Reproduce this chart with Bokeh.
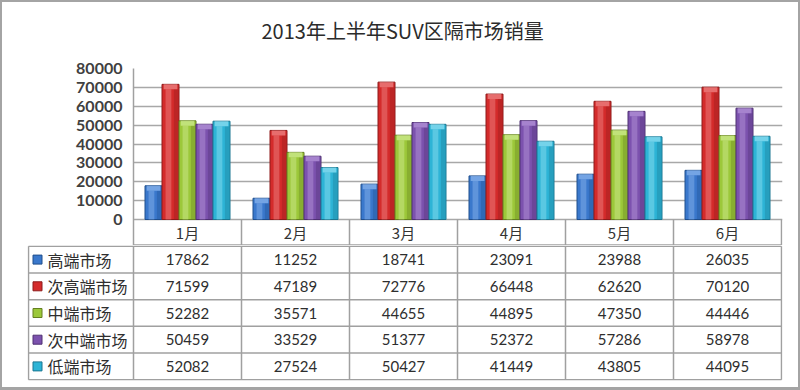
from bokeh.plotting import figure
from bokeh.models import Range1d, FixedTicker, ColumnDataSource
from bokeh.embed import file_html
from bokeh.resources import INLINE
from bokeh.core.properties import value

# ---------------- data ----------------
title_text = "2013年上半年SUV区隔市场销量"
months = ["1月", "2月", "3月", "4月", "5月", "6月"]
series_names = ["高端市场", "次高端市场", "中端市场", "次中端市场", "低端市场"]
high = [17862, 11252, 18741, 23091, 23988, 26035]
sub_high = [71599, 47189, 72776, 66448, 62620, 70120]
mid = [52282, 35571, 44655, 44895, 47350, 44446]
sub_mid = [50459, 33529, 51377, 52372, 57286, 58978]
low = [52082, 27524, 50427, 41449, 43805, 44095]
y_ticks = [0, 10000, 20000, 30000, 40000, 50000, 60000, 70000, 80000]

series = [high, sub_high, mid, sub_mid, low]
colors = ["#3a78cc", "#d42b2b", "#9cc83a", "#7c52ae", "#2db4d6"]
darks = ["#1f4e8c", "#8e1a1a", "#647f20", "#4f3073", "#1b7791"]
lights = ["#8db6ee", "#f08a8a", "#d2ec96", "#b899dc", "#93e0f2"]

CJK = value("Noto Sans CJK SC")
NUM = value("Lato")

W = 800
TITLE_H = 46
TOP = 68            # top of the plot area (page px)
LEFT = 133          # left edge of the plot area
RIGHT_EDGE = 781    # right edge of the plot area / table
COL_PX = (RIGHT_EDGE - LEFT) / 6.0
BW = 17.0 / COL_PX  # bar width in month units
PLOT_PX = 151.0     # pixel height of 0..80000
HDR_PX = 26.0       # header row height
ROW_PX = 26.6
YMAX = 80000
hdr_units = HDR_PX / PLOT_PX * YMAX
pad = 1.0 / COL_PX
gc = "#a0a0a0"
border = "#a4a4a4"
chart_h = int(TOP + PLOT_PX + HDR_PX) - TITLE_H

# ---------------- title strip ----------------
head = figure(width=W, height=TITLE_H, x_range=Range1d(0, W), y_range=Range1d(TITLE_H, 0),
              output_backend="svg", toolbar_location=None,
              min_border_left=0, min_border_right=0, min_border_top=0, min_border_bottom=0)
head.axis.visible = False
head.grid.grid_line_color = None
head.outline_line_color = None
head.border_fill_alpha = 0
head.background_fill_alpha = 0
head.styles = {"box-shadow": f"inset 2px 2px 0 {border}, inset -2px 0 0 {border}"}
head.text(x=[261], y=[30], text=[title_text], text_align="left", text_baseline="middle",
          text_font=CJK, text_font_size="20px", text_color="#2b2b2b")

# ---------------- chart (with month header row) ----------------
chart = figure(width=W, height=chart_h,
               x_range=Range1d(0, 6 + pad), y_range=Range1d(-hdr_units, YMAX),
               output_backend="svg", toolbar_location=None,
               min_border_left=LEFT, min_border_right=W - RIGHT_EDGE - 1,
               min_border_top=TOP - TITLE_H, min_border_bottom=0)
chart.outline_line_color = None
chart.border_fill_alpha = 0
chart.styles = {"box-shadow": f"inset 2px 0 0 {border}, inset -2px 0 0 {border}"}
chart.xaxis.visible = False
chart.xgrid.grid_line_color = None
chart.ygrid.grid_line_color = "#a8a8a8"
chart.ygrid.grid_line_width = 1.5
chart.yaxis.ticker = FixedTicker(ticks=y_ticks)
chart.yaxis.major_tick_in = 0
chart.yaxis.major_tick_out = 0
chart.yaxis.minor_tick_in = 0
chart.yaxis.minor_tick_out = 0
chart.yaxis.major_label_standoff = 11
chart.yaxis.axis_line_color = gc
chart.yaxis.axis_line_width = 1.5
chart.yaxis.major_label_text_font = "Lato"
chart.yaxis.major_label_text_font_style = "bold"
chart.yaxis.major_label_text_font_size = "16px"
chart.yaxis.major_label_text_color = "#404040"

unit_per_px = YMAX / PLOT_PX
for k, vals in enumerate(series):
    off = (k - 2) * BW
    xs = [i + 0.5 + off for i in range(len(months))]
    src = ColumnDataSource(dict(x=xs, top=vals,
                                cap=[v - 5 * unit_per_px for v in vals],
                                hx=[x - BW * 0.12 for x in xs],
                                sx=[x + BW * 0.33 for x in xs]))
    chart.vbar(x="x", top="top", bottom=0, width=BW, source=src,
               fill_color=colors[k], line_color=darks[k], line_width=1)
    chart.vbar(x="hx", top="cap", bottom=0, width=BW * 0.34, source=src,
               fill_color=lights[k], fill_alpha=0.45, line_color=None)
    chart.vbar(x="sx", top="cap", bottom=0, width=BW * 0.26, source=src,
               fill_color=darks[k], fill_alpha=0.35, line_color=None)
    chart.vbar(x="x", top="top", bottom="cap", width=BW * 0.8, source=src,
               fill_color=lights[k], fill_alpha=0.7, line_color=None)

# header row: vertical separators and month names
mx = list(range(1, len(months) + 1))
chart.segment(x0=mx, x1=mx, y0=[-hdr_units] * len(mx), y1=[0] * len(mx),
              line_color=gc, line_width=1.5)
chart.segment(x0=[0], x1=[6], y0=[-hdr_units + 0.6 * unit_per_px], y1=[-hdr_units + 0.6 * unit_per_px],
              line_color=gc, line_width=1.5)
chart.text(x=[i + 0.5 for i in range(len(months))], y=[-hdr_units / 2] * len(months),
           text=months, text_align="center", text_baseline="middle",
           text_font=CJK, text_font_size="15px", text_color="#333333")

# ---------------- data table ----------------
legend_w = (LEFT - 28) / COL_PX
nrows = len(series)
rpad = 0.75 / ROW_PX
table_h = 390 - TITLE_H - chart_h
body_px = int(round(nrows * ROW_PX)) + 2
table = figure(width=W, height=table_h,
               x_range=Range1d(-legend_w - pad, 6 + pad),
               y_range=Range1d(-rpad, nrows + rpad),
               output_backend="svg", toolbar_location=None,
               min_border_left=27, min_border_right=W - RIGHT_EDGE - 1,
               min_border_top=0, min_border_bottom=table_h - body_px)
table.axis.visible = False
table.grid.grid_line_color = None
table.outline_line_color = None
table.border_fill_alpha = 0
table.styles = {"box-shadow": f"inset 2px 0 0 {border}, inset -2px -3px 0 {border}"}

hy = list(range(nrows + 1))
table.segment(x0=[-legend_w] * len(hy), x1=[6] * len(hy), y0=hy, y1=hy,
              line_color=gc, line_width=1.5)
vx = [-legend_w] + list(range(len(months) + 1))
table.segment(x0=vx, x1=vx, y0=[0] * len(vx), y1=[nrows] * len(vx),
              line_color=gc, line_width=1.5)

for k, vals in enumerate(series):
    yc = nrows - 0.5 - k
    table.text(x=[i + 0.5 for i in range(len(vals))], y=[yc] * len(vals),
               text=[str(v) for v in vals], text_align="center", text_baseline="middle",
               text_font=NUM, text_font_size="15px", text_color="#2e2e2e")

ly = [nrows - 0.5 - k for k in range(len(series))]
key_x = -legend_w + 9.0 / COL_PX
name_x = -legend_w + 19.0 / COL_PX
table.scatter(x=[key_x] * len(series), y=ly, marker="square", size=9,
              fill_color=colors, line_color=darks, line_width=1)
table.text(x=[name_x] * len(series), y=ly, text=series_names,
           text_align="left", text_baseline="middle",
           text_font=CJK, text_font_size="16px", text_color="#2e2e2e")

open("out.html", "w").write(file_html([head, chart, table], INLINE))
